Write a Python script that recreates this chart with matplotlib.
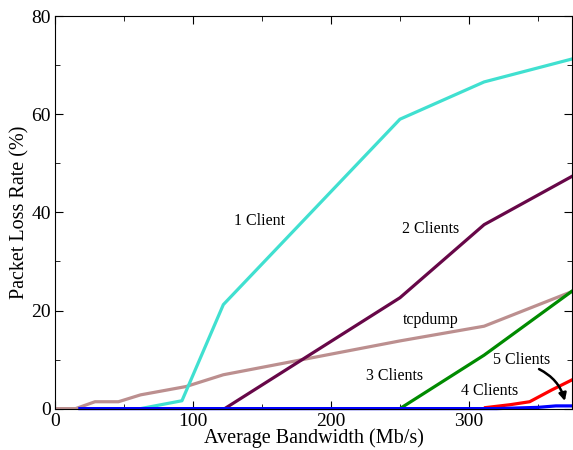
import matplotlib
matplotlib.use("Agg")
import matplotlib.pyplot as plt
from matplotlib.ticker import MultipleLocator

plt.rcParams['font.family'] = ['Liberation Serif', 'DejaVu Serif']

# data (bandwidth in Mb/s, loss in %)
c1_x = [62, 92, 122, 250, 311, 375]
c1_y = [0, 1.6, 21.2, 59.0, 66.6, 71.3]

c2_x = [123, 250, 311, 375]
c2_y = [0, 22.6, 37.5, 47.4]

tcp_x = [0, 15, 29, 46, 62, 95, 122, 250, 311, 375]
tcp_y = [0, 0, 1.4, 1.4, 2.8, 4.5, 6.9, 13.8, 16.8, 23.9]

c3_x = [153, 250, 311, 375]
c3_y = [0, 0, 10.9, 24.0]

c4_x = [312, 330, 344, 360, 375]
c4_y = [0.2, 0.8, 1.4, 3.8, 5.9]

c5_x = [18, 320, 350, 363, 375]
c5_y = [0, 0, 0.25, 0.55, 0.55]

fig = plt.figure(figsize=(5.73, 4.5), dpi=100)
ax = fig.add_axes([0.096, 0.092, 0.903, 0.872])

lw = 2.3
ax.plot(tcp_x, tcp_y, color='#BC8F8F', lw=lw)
ax.plot(c1_x, c1_y, color='#40E0D0', lw=lw)
ax.plot(c2_x, c2_y, color='#670748', lw=lw)
ax.plot(c3_x, c3_y, color='#008B00', lw=lw)
ax.plot(c4_x, c4_y, color='#FF0000', lw=lw)
ax.plot(c5_x, c5_y, color='#0000FF', lw=lw, clip_on=False)

ax.set_xlim(0, 375)
ax.set_ylim(0, 80)
ax.xaxis.set_major_locator(MultipleLocator(100))
ax.xaxis.set_minor_locator(MultipleLocator(50))
ax.yaxis.set_major_locator(MultipleLocator(20))
ax.yaxis.set_minor_locator(MultipleLocator(10))
ax.tick_params(which='both', direction='in', top=True, right=True, labelsize=14)
ax.tick_params(axis='x', which='both', pad=3)
ax.tick_params(axis='y', which='both', pad=3)
ax.tick_params(which='major', length=6)
ax.tick_params(which='minor', length=3.5)
for s in ax.spines.values():
    s.set_linewidth(0.8)
    s.set_zorder(5)

ax.set_xlabel('Average Bandwidth (Mb/s)', fontsize=14.5, labelpad=-1)
ax.set_ylabel('Packet Loss Rate (%)', fontsize=14.5, labelpad=1)

fs = 11.5
ax.text(148, 38.3, '1 Client', fontsize=fs, ha='center', va='center')
ax.text(272, 36.6, '2 Clients', fontsize=fs, ha='center', va='center')
ax.text(272, 18.0, 'tcpdump', fontsize=fs, ha='center', va='center')
ax.text(246, 6.7, '3 Clients', fontsize=fs, ha='center', va='center')
ax.text(315, 3.6, '4 Clients', fontsize=fs, ha='center', va='center')
ax.text(338, 10.0, '5 Clients', fontsize=fs, ha='center', va='center')
ax.annotate('', xy=(370, 1.0), xytext=(349, 8.3),
            arrowprops=dict(arrowstyle='-|>', color='black', lw=1.8,
                            connectionstyle='arc3,rad=-0.25', mutation_scale=11))

fig.savefig('out.png', dpi=100)
